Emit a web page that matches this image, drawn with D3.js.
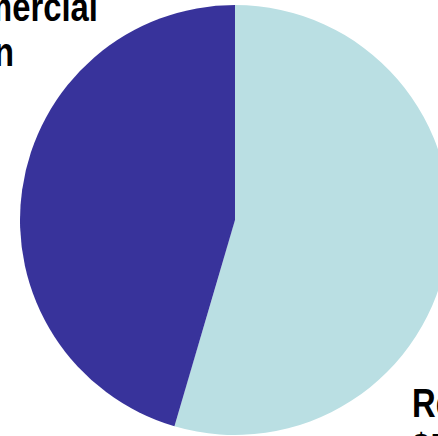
<!DOCTYPE html>
<html lang="en">
  <head>
    <meta charset="UTF-8" />
    <title>Residential vs Commercial</title>
    <script src="https://d3js.org/d3.v7.min.js"></script>
    <style>
      body {
        margin: 0;
        background: #fff;
      }
      svg {
        display: block;
      }
      .label {
        font-family: "Liberation Sans", Arial, sans-serif;
        font-weight: bold;
        font-size: 40px;
        fill: #000;
      }
    </style>
  </head>
  <body>
    <svg width="438" height="436"></svg>
    <script>
      // data
      const categories = ["Residential", "Commercial"];
      const values = [5.4, 4.5];
      const valueLabels = ["$5.4bn", "$4.5bn"];
      const colors = ["#badfe3", "#38339b"];

      const svg = d3.select("svg");

      // pie is a bit larger than the frame, labels get cut at the edges
      const cx = 235;
      const cy = 220;
      const radius = 215;

      const data = categories.map((c, i) => ({
        category: c,
        value: values[i],
        label: valueLabels[i],
        color: colors[i],
      }));

      const pie = d3
        .pie()
        .value((d) => d.value)
        .sort(null);

      const arc = d3.arc().innerRadius(0).outerRadius(radius);

      const g = svg.append("g").attr("transform", `translate(${cx},${cy})`);

      g.selectAll("path")
        .data(pie(data))
        .join("path")
        .attr("d", arc)
        .attr("fill", (d) => d.data.color);

      // labels (narrow bold font, placed like dragged data labels)
      const narrow = 0.82;
      const labelPos = {
        Residential: { x: 412, y: 417, align: "start" },
        Commercial: { x: 98, y: 21, align: "end" },
      };
      const lineGap = 45;

      data.forEach((d) => {
        const p = labelPos[d.category];
        const lg = svg.append("g");
        const t = lg.append("text").attr("class", "label");
        const l1 = t.append("tspan").attr("x", 0).attr("y", p.y).text(d.category);
        t.append("tspan")
          .attr("x", 0)
          .attr("y", p.y + lineGap)
          .text(d.label);
        let x0 = p.x;
        if (p.align === "end") x0 = p.x - l1.node().getComputedTextLength() * narrow;
        lg.attr("transform", `translate(${x0},0) scale(${narrow},1)`);
      });
    </script>
  </body>
</html>
